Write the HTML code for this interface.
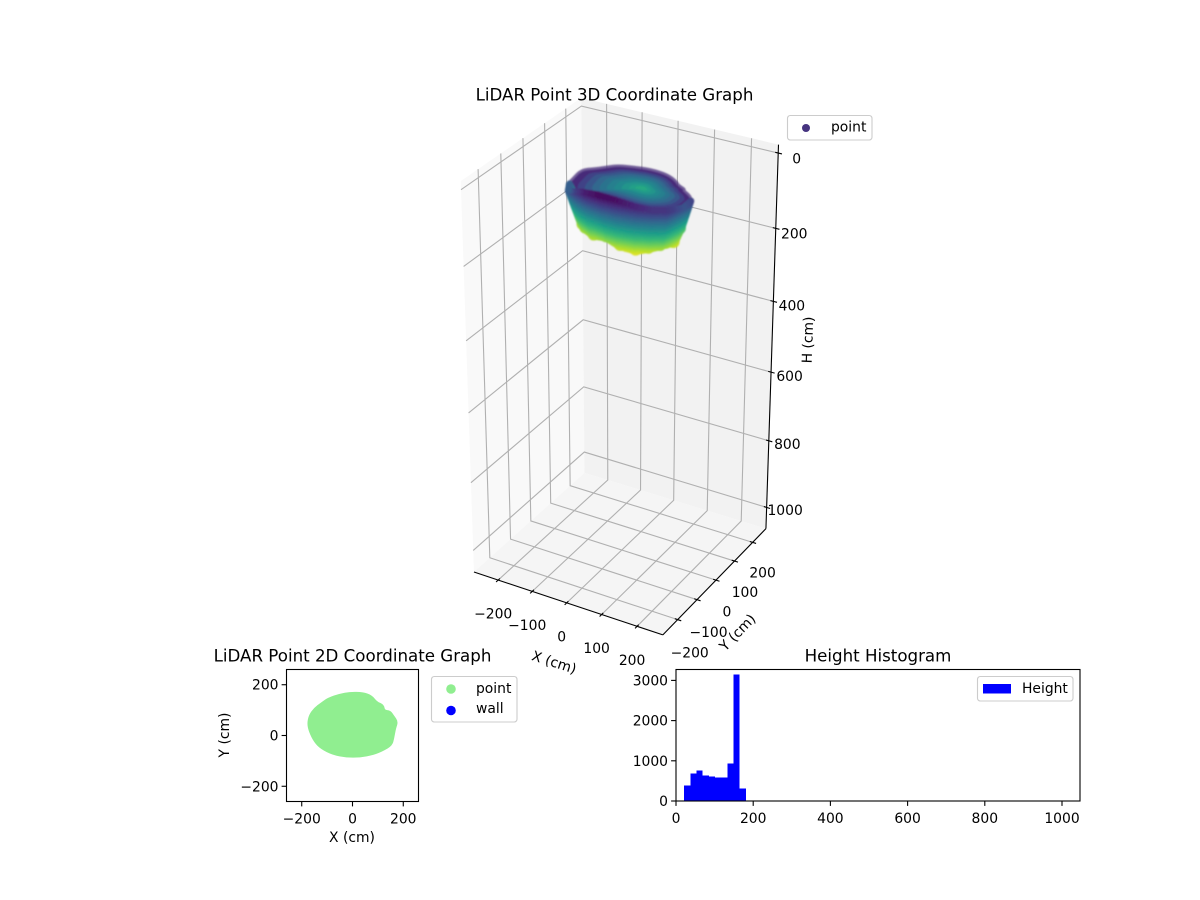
<!DOCTYPE html>
<html lang="en">
<head>
<meta charset="utf-8">
<title>LiDAR Point Graphs</title>
<style>
html,body{margin:0;padding:0;background:#fff;}
svg{display:block;font-family:"DejaVu Sans","Liberation Sans",sans-serif;}
text{fill:#000;}
</style>
</head>
<body>
<svg id="figure" xmlns="http://www.w3.org/2000/svg" width="1200" height="900" viewBox="0 0 1200 900">
  <defs><filter id="soft" x="-10%" y="-10%" width="120%" height="120%"><feGaussianBlur stdDeviation="0.7"/></filter></defs>
  <rect width="1200" height="900" fill="#fff"/>
  <g id="chart3d"></g>
  <text x="614.5" y="95" font-size="16.67" text-anchor="middle" dominant-baseline="central">LiDAR Point 3D Coordinate Graph</text>
  <g>
    <rect x="787.5" y="115.5" width="84.5" height="24.5" rx="2.8" fill="#fff" fill-opacity="0.8" stroke="#ccc" stroke-width="1.1"/>
    <circle cx="806" cy="128" r="4" fill="#463480"/>
    <text x="831" y="127.5" font-size="13.89" dominant-baseline="central">point</text>
  </g>
  <text x="554" y="663" font-size="13.89" text-anchor="middle" dominant-baseline="central" transform="rotate(18 554 663)">X (cm)</text>
  <text x="738" y="633" font-size="13.89" text-anchor="middle" dominant-baseline="central" transform="rotate(-46 738 633)">Y (cm)</text>
  <text x="808.5" y="340" font-size="13.89" text-anchor="middle" dominant-baseline="central" transform="rotate(-88 808.5 340)">H (cm)</text>

  <g id="chart2d"></g>
  <text x="352.5" y="656" font-size="16.67" text-anchor="middle" dominant-baseline="central">LiDAR Point 2D Coordinate Graph</text>
  <text x="352" y="838" font-size="13.89" text-anchor="middle" dominant-baseline="central">X (cm)</text>
  <text x="225" y="735" font-size="13.89" text-anchor="middle" dominant-baseline="central" transform="rotate(-90 225 735)">Y (cm)</text>
  <g>
    <rect x="431.5" y="676.5" width="85.5" height="45.5" rx="2.8" fill="#fff" fill-opacity="0.8" stroke="#ccc" stroke-width="1.1"/>
    <circle cx="451" cy="689" r="4.8" fill="#90ee90"/>
    <text x="476" y="689" font-size="13.89" dominant-baseline="central">point</text>
    <circle cx="451" cy="710.5" r="4.8" fill="#0000ff"/>
    <text x="476" y="709" font-size="13.89" dominant-baseline="central">wall</text>
  </g>

  <g id="chartHist"></g>
  <text x="878" y="656" font-size="16.67" text-anchor="middle" dominant-baseline="central">Height Histogram</text>
  <g>
    <rect x="977.5" y="676.5" width="95.5" height="24.5" rx="2.8" fill="#fff" fill-opacity="0.8" stroke="#ccc" stroke-width="1.1"/>
    <rect x="983" y="684" width="28" height="9.5" fill="#0000ff"/>
    <text x="1022" y="689" font-size="13.89" dominant-baseline="central">Height</text>
  </g>
</svg>
<script>
// ---- 3D axis data ----
const xRange3d = [-272, 272];
const yRange3d = [-275, 275];
const heightRange3d = [-22, 1065];
const xTicks3d = [-200, -100, 0, 100, 200];
const yTicks3d = [-200, -100, 0, 100, 200];
const heightTicks3d = [0, 200, 400, 600, 800, 1000];

// ---- point cloud, footprint outline in cm with rim and base heights per vertex ----
const outlineX = [-176,-169,-149,-123,-96,-50,-10,42,75,95,121,125,148,161,177,168,161,154,121,82,29,-24,-77,-123,-149,-169];
const outlineY = [47,80,107,127,146,162,169,168,156,131,120,98,96,77,54,28,-12,-38,-58,-74,-84,-84,-74,-51,-25,15];
const rimH = [78,65,68,66,62,63,62,64,70,67,68,59,69,67,59,69,60,54,53,46,37,35,43,61,74,75];
const baseH = [130,110,110,110,110,110,110,110,110,110,110,110,110,130,137,167,158,157,164,171,165,152,160,157,160,150];
const interiorScale = [0.97,0.88,0.78,0.68,0.58,0.48,0.38,0.28,0.18,0.1];
const interiorShade = [0.12,0.2,0.27,0.33,0.38,0.43,0.47,0.52,0.56,0.6];
const viridisStops = ["#440154","#482878","#3e4989","#31688e","#26828e","#1f9e89","#35b779","#6ece58","#b5de2b","#fde725"];

// ---- 2D scatter axis ----
const ticks2d = [-200, 0, 200];
const limit2d = [-260, 260];

// ---- histogram data ----
const histEdges = [21,37,53,69,85,101,117,133,149,165,181];
const histCounts = [381,680,755,630,605,580,580,929,3143,307];
const histXTicks = [0,200,400,600,800,1000];
const histYTicks = [0,1000,2000,3000];

const NS = "http://www.w3.org/2000/svg";
function add(parent, tag, attrs, text) {
  const node = document.createElementNS(NS, tag);
  for (const k in attrs) node.setAttribute(k, attrs[k]);
  if (text !== undefined) node.textContent = text;
  parent.appendChild(node);
  return node;
}
function fmt(v) { return String(v).replace("-", "\u2212"); }

// 3D projection, elev 30, azim -60, near equal data aspect
function project(x, y, h) {
  const ux = (x - xRange3d[0]) / (xRange3d[1] - xRange3d[0]) - 0.5;
  const uy = (y - yRange3d[0]) / (yRange3d[1] - yRange3d[0]) - 0.5;
  const uz = ((heightRange3d[1] - h) / (heightRange3d[1] - heightRange3d[0]) - 0.5) * 2.03;
  const a = ux * 0.866 + uy * 0.5;
  const b = -0.25 * ux + 0.433 * uy + 0.866 * uz;
  const c = 0.433 * ux - 0.75 * uy + 0.5 * uz;
  const depth = 12 - c;
  return [621.8 + 2673 * a / depth, 364.5 - 2640 * b / depth];
}
function pts(list) {
  return list.map(function (p) { const q = project(p[0], p[1], p[2]); return q[0].toFixed(2) + "," + q[1].toFixed(2); }).join(" ");
}
// closed curve through the midpoints of a screen-space polygon
function smoothClosed(screen) {
  const m = screen.length;
  function mid(a, b) { return [(a[0] + b[0]) / 2, (a[1] + b[1]) / 2]; }
  const start = mid(screen[m - 1], screen[0]);
  let d = "M" + start[0].toFixed(2) + " " + start[1].toFixed(2);
  for (let i = 0; i < m; i++) {
    const e = mid(screen[i], screen[(i + 1) % m]);
    d += "Q" + screen[i][0].toFixed(2) + " " + screen[i][1].toFixed(2) + " " + e[0].toFixed(2) + " " + e[1].toFixed(2);
  }
  return d + "Z";
}
function hexRgb(h) { return [parseInt(h.substr(1,2),16), parseInt(h.substr(3,2),16), parseInt(h.substr(5,2),16)]; }
function viridis(t) {
  const s = Math.max(0, Math.min(0.9999, t)) * (viridisStops.length - 1);
  const i = Math.floor(s), f = s - i;
  const a = hexRgb(viridisStops[i]), b = hexRgb(viridisStops[i + 1]);
  return "rgb(" + [0,1,2].map(function (k) { return Math.round(a[k] + (b[k] - a[k]) * f); }).join(",") + ")";
}
// colour of a point from its height
function heightColor(h) {
  const t = Math.max(0, (h - 30) / 140);
  return viridis(0.94 * t);
}

// ---------- 3D chart ----------
(function () {
  const g = document.getElementById("chart3d");
  const x0 = xRange3d[0], x1 = xRange3d[1], y0 = yRange3d[0], y1 = yRange3d[1], top = heightRange3d[0], bot = heightRange3d[1];

  const paneLeft = add(g, "polygon", {points: pts([[x0,y0,top],[x0,y1,top],[x0,y1,bot],[x0,y0,bot]]), fill: "#f9f9f9"});
  
  
  const paneBack = add(g, "polygon", {points: pts([[x0,y1,top],[x1,y1,top],[x1,y1,bot],[x0,y1,bot]]), fill: "#f2f2f2"});
  
  
  const paneFloor = add(g, "polygon", {points: pts([[x0,y0,bot],[x1,y0,bot],[x1,y1,bot],[x0,y1,bot]]), fill: "#f5f5f5"});
  
  

  const gridStyle = {fill: "none", stroke: "#b0b0b0", "stroke-width": 1.1};
  xTicks3d.forEach(function (v) {
    const line = add(g, "polyline", Object.assign({points: pts([[v,y0,bot],[v,y1,bot],[v,y1,top]])}, gridStyle));
    
    
  });
  yTicks3d.forEach(function (v) {
    const line = add(g, "polyline", Object.assign({points: pts([[x1,v,bot],[x0,v,bot],[x0,v,top]])}, gridStyle));
    
    
  });
  heightTicks3d.forEach(function (v) {
    const line = add(g, "polyline", Object.assign({points: pts([[x0,y0,v],[x0,y1,v],[x1,y1,v]])}, gridStyle));
    
    
  });

  const axisStyle = {fill: "none", stroke: "#000", "stroke-width": 1.1};
  const axisX = add(g, "polyline", Object.assign({points: pts([[x0,y0,bot],[x1,y0,bot]])}, axisStyle));
  
  
  const axisY = add(g, "polyline", Object.assign({points: pts([[x1,y0,bot],[x1,y1,bot]])}, axisStyle));
  
  
  const axisH = add(g, "polyline", Object.assign({points: pts([[x1,y1,bot],[x1,y1,top]])}, axisStyle));
  
  

  xTicks3d.forEach(function (v) {
    const t = add(g, "polyline", Object.assign({points: pts([[v,y0+8,bot],[v,y0-10,bot]])}, axisStyle));
    
    
    const p = project(v, y0, bot);
    const label = add(g, "text", {x: p[0] - 5, y: p[1] + 34.5, "font-size": 13.89, "text-anchor": "middle", "dominant-baseline": "central"}, fmt(v));
    
    
  });
  yTicks3d.forEach(function (v) {
    const t = add(g, "polyline", Object.assign({points: pts([[x1-8,v,bot],[x1+10,v,bot]])}, axisStyle));
    
    
    const p = project(x1, v, bot);
    const label = add(g, "text", {x: p[0] + 11 - v * 0.005, y: p[1] + 32.5 - v * 0.0075, "font-size": 13.89, "text-anchor": "middle", "dominant-baseline": "central"}, fmt(v));
    
    
  });
  heightTicks3d.forEach(function (v) {
    const t = add(g, "polyline", Object.assign({points: pts([[x1-8,y1,v],[x1+10,y1,v]])}, axisStyle));
    
    
    const p = project(x1, y1, v);
    const label = add(g, "text", {x: p[0] + 18.5, y: p[1] + 3.5 + (1000 - v) * 0.003, "font-size": 13.89, "text-anchor": "middle", "dominant-baseline": "central"}, fmt(v));
    
    
  });

  // ---- point cloud ----
  const cloud = add(g, "g", {filter: "url(#soft)"});
  
  
  const n = outlineX.length;
  const rimScale = 0.9, baseScale = 0.72, cx = 15, cy = 30;
  const innerCx = 25, innerCy = 55;
  const meanRim = rimH.reduce(function (s, v) { return s + v; }, 0) / n;

  function rimPoint(i) { return [outlineX[i % n] * rimScale, outlineY[i % n] * rimScale, rimH[i % n]]; }

  // back rim and interior, outermost ring first
  const rimRing = [];
  for (let i = 0; i < n; i++) rimRing.push(rimPoint(i));
  const rimFill = add(cloud, "path", {d: smoothClosed(rimRing.map(function (p) { return project(p[0], p[1], p[2]); })), fill: viridis(0.12), stroke: viridis(0.12), "stroke-width": 5, "stroke-opacity": 0.75, "stroke-linejoin": "round"});
  
  
  interiorScale.forEach(function (k, idx) {
    const ring = rimRing.map(function (p) {
      return project(innerCx + (p[0] - innerCx) * k, innerCy + (p[1] - innerCy) * k, meanRim + (p[2] - meanRim) * k);
    });
    const poly = add(cloud, "path", {d: smoothClosed(ring), fill: viridis(interiorShade[idx])});
    
    
  });

  const wallStart = 14, wallSegments = 11, subdivisions = 5, levels = 26;

  // lumps along the lower edge of the cloud
  for (let a = wallStart; a <= wallStart + wallSegments; a++) {
    const i = a % n;
    const q = project(cx + (outlineX[i] - cx) * baseScale, cy + (outlineY[i] - cy) * baseScale, baseH[i]);
    const lump = add(cloud, "circle", {cx: q[0].toFixed(2), cy: q[1].toFixed(2), r: 6, fill: heightColor(baseH[i]), "fill-opacity": 0.85});
    
    
  }

  // outer wall, seen from the front, drawn from the base up to the rim
  for (let l = levels - 1; l >= 0; l--) {
    const f = l / (levels - 1);
    for (let s = 0; s <= wallSegments * subdivisions; s++) {
      const a = wallStart + Math.floor(s / subdivisions);
      const m = (s % subdivisions) / subdivisions;
      const i = a % n, j = (a + 1) % n;
      const ox = outlineX[i] + (outlineX[j] - outlineX[i]) * m;
      const oy = outlineY[i] + (outlineY[j] - outlineY[i]) * m;
      const rh = rimH[i] + (rimH[j] - rimH[i]) * m;
      const bh = baseH[i] + (baseH[j] - baseH[i]) * m;
      const bx = cx + (ox - cx) * baseScale, by = cy + (oy - cy) * baseScale;
      const px = ox * rimScale + (bx - ox * rimScale) * f;
      const py = oy * rimScale + (by - oy * rimScale) * f;
      const h = rh + (bh - rh) * f;
      const q = project(px, py, h);
      const dot = add(cloud, "circle", {cx: q[0].toFixed(2), cy: q[1].toFixed(2), r: (3.4 + 1.8 * f).toFixed(2), fill: heightColor(h), "fill-opacity": 0.85});
      
      
    }
  }
})();

// ---------- 2D chart ----------
(function () {
  const g = document.getElementById("chart2d");
  const left = 286.5, right = 418.5, topY = 669.5, bottom = 801.5;
  function sx(v) { return left + (v - limit2d[0]) / (limit2d[1] - limit2d[0]) * (right - left); }
  function sy(v) { return bottom - (v - limit2d[0]) / (limit2d[1] - limit2d[0]) * (bottom - topY); }

  const shape = add(g, "path", {d: smoothClosed(outlineX.map(function (v, i) { return [sx(v), sy(outlineY[i])]; })), fill: "#90ee90", stroke: "#90ee90", "stroke-width": 1.6, "stroke-linejoin": "round"});
  
  

  const frame = add(g, "rect", {x: left, y: topY, width: right - left, height: bottom - topY, fill: "none", stroke: "#000", "stroke-width": 1.1});
  
  

  ticks2d.forEach(function (v) {
    const tx = add(g, "line", {x1: sx(v), x2: sx(v), y1: bottom, y2: bottom + 4.9, stroke: "#000", "stroke-width": 1.1});
    
    
    const lx = add(g, "text", {x: sx(v), y: bottom + 18, "font-size": 13.89, "text-anchor": "middle", "dominant-baseline": "central"}, fmt(v));
    
    
    const ty = add(g, "line", {x1: left - 4.9, x2: left, y1: sy(v), y2: sy(v), stroke: "#000", "stroke-width": 1.1});
    
    
    const ly = add(g, "text", {x: left - 8, y: sy(v) + 1, "font-size": 13.89, "text-anchor": "end", "dominant-baseline": "central"}, fmt(v));
    
    
  });
})();

// ---------- Histogram ----------
(function () {
  const g = document.getElementById("chartHist");
  const left = 676, right = 1080, topY = 669.5, bottom = 801;
  function sx(v) { return left + v * 0.386; }
  function sy(v) { return bottom - v * 0.0402; }

  histCounts.forEach(function (c, i) {
    const bar = add(g, "rect", {x: sx(histEdges[i]), y: sy(c), width: sx(histEdges[i + 1]) - sx(histEdges[i]), height: bottom - sy(c), fill: "#0000ff", "shape-rendering": "crispEdges"});
    
    
  });

  const frame = add(g, "rect", {x: left, y: topY, width: right - left, height: bottom - topY, fill: "none", stroke: "#000", "stroke-width": 1.1});
  
  

  histXTicks.forEach(function (v) {
    const t = add(g, "line", {x1: sx(v), x2: sx(v), y1: bottom, y2: bottom + 4.9, stroke: "#000", "stroke-width": 1.1});
    
    
    const l = add(g, "text", {x: sx(v), y: bottom + 18, "font-size": 13.89, "text-anchor": "middle", "dominant-baseline": "central"}, fmt(v));
    
    
  });
  histYTicks.forEach(function (v) {
    const t = add(g, "line", {x1: left - 4.9, x2: left, y1: sy(v), y2: sy(v), stroke: "#000", "stroke-width": 1.1});
    
    
    const l = add(g, "text", {x: left - 8, y: sy(v) + 1, "font-size": 13.89, "text-anchor": "end", "dominant-baseline": "central"}, fmt(v));
    
    
  });
})();
</script>
</body>
</html>
